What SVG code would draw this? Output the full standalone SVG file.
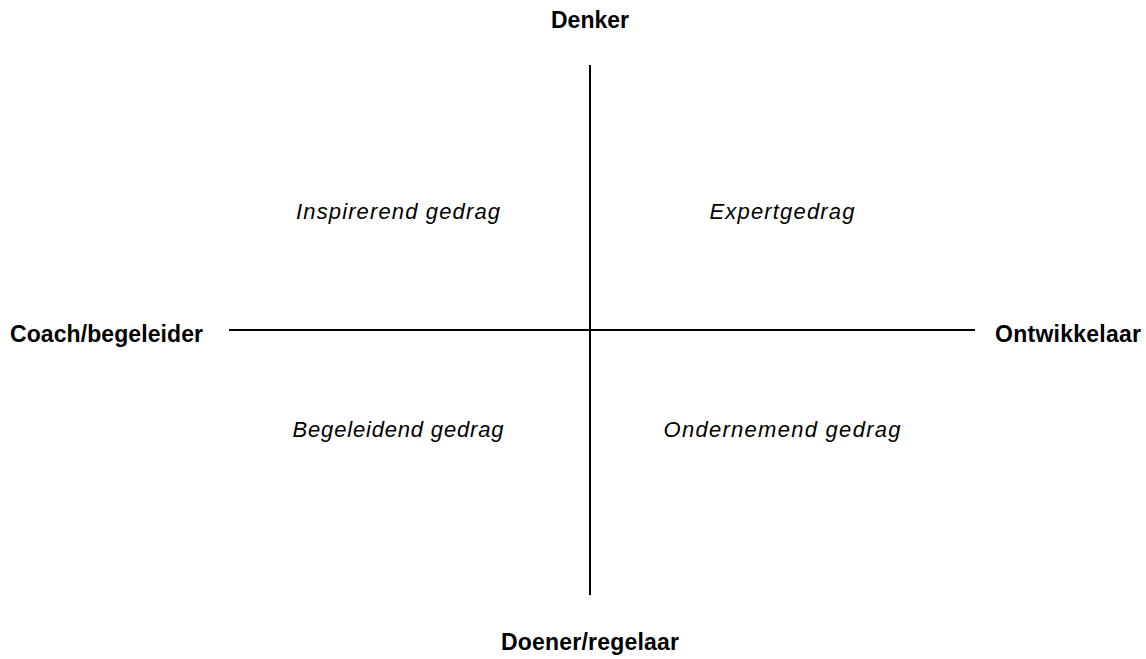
<svg xmlns="http://www.w3.org/2000/svg" width="1146" height="659" viewBox="0 0 1146 659">
<style>
.ax{font-family:"Liberation Sans",Arial,sans-serif;font-weight:bold;font-size:23px;fill:#000}
.q{font-family:"Liberation Sans",Arial,sans-serif;font-style:italic;font-size:22px;fill:#000}
.ln{stroke:#000;stroke-width:2;fill:none}
</style>
<rect width="1146" height="659" fill="#fff"/>
<g id="connectors">
<line class="ln" x1="590" y1="65" x2="590" y2="595"/>
<line class="ln" x1="229" y1="330" x2="975" y2="330"/>
</g>
<g id="denker"><text class="ax" x="590" y="28" text-anchor="middle" textLength="78">Denker</text></g>
<g id="doener"><text class="ax" x="590" y="650" text-anchor="middle" textLength="178">Doener/regelaar</text></g>
<g id="coach"><text class="ax" x="10" y="342" textLength="193">Coach/begeleider</text></g>
<g id="ontwikkelaar"><text class="ax" x="995" y="342" textLength="146">Ontwikkelaar</text></g>
<g id="inspirerend"><text class="q" x="398" y="219" text-anchor="middle" textLength="204">Inspirerend gedrag</text></g>
<g id="expert"><text class="q" x="782" y="219" text-anchor="middle" textLength="145">Expertgedrag</text></g>
<g id="begeleidend"><text class="q" x="398" y="437" text-anchor="middle" textLength="211">Begeleidend gedrag</text></g>
<g id="ondernemend"><text class="q" x="782" y="437" text-anchor="middle" textLength="237">Ondernemend gedrag</text></g>
</svg>
